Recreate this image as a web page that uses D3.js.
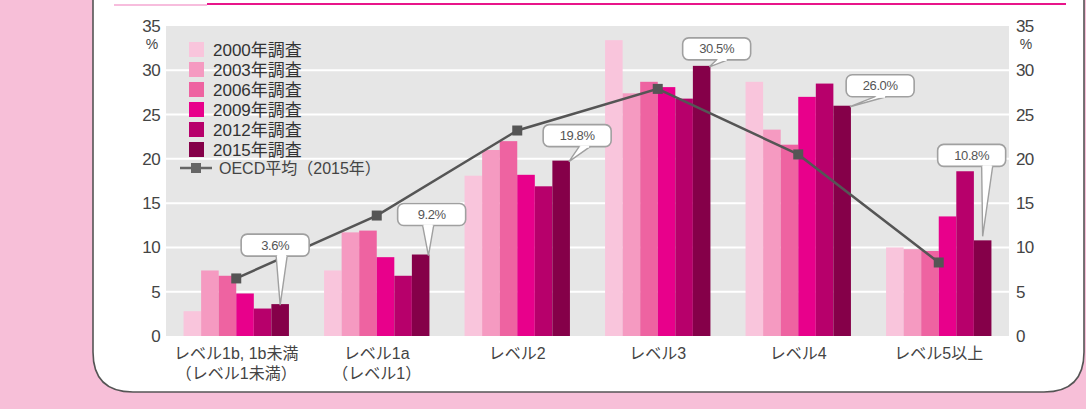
<!DOCTYPE html>
<html>
<head>
  <meta charset="utf-8">
  <title>読解力 習熟度レベル別の割合</title>
  <script src="https://d3js.org/d3.v7.min.js"></script>
  <style>
    body { margin: 0; background: #f7bfd8; }
    svg { display: block; font-family: "Liberation Sans", "Noto Sans CJK JP", sans-serif; }
  </style>
</head>
<body>
  <script>
    // Data
    const categories = ['レベル1b, 1b未満\n（レベル1未満）', 'レベル1a\n（レベル1）', 'レベル2', 'レベル3', 'レベル4', 'レベル5以上'];
    const surveys = ['2000年調査', '2003年調査', '2006年調査', '2009年調査', '2012年調査', '2015年調査'];
    const v2000 = [2.8, 7.4, 18.1, 33.4, 28.7, 10.0];
    const v2003 = [7.4, 11.7, 21.0, 27.4, 23.3, 9.8];
    const v2006 = [6.8, 11.9, 22.0, 28.7, 21.6, 9.6];
    const v2009 = [4.8, 8.9, 18.2, 28.1, 27.0, 13.5];
    const v2012 = [3.1, 6.8, 16.9, 26.8, 28.5, 18.6];
    const v2015 = [3.6, 9.2, 19.8, 30.5, 26.0, 10.8];
    const oecd = [6.5, 13.6, 23.2, 27.9, 20.5, 8.3];
    const yTicks = [0, 5, 10, 15, 20, 25, 30, 35];
    const colors = ['#f9c5dc', '#f59ac1', '#ee63a1', '#e8008b', '#b7006b', '#850049'];
    const seriesValues = [v2000, v2003, v2006, v2009, v2012, v2015];

    // Callout placement relative to the 2015 bar (layout only)
    const callouts = [
      { dx: -39, dy: -48, t: 35 },
      { dx: -23, dy: -29, t: 25 },
      { dx: -18, dy: -14, t: 36 },
      { dx: -19, dy: -6, t: 34 },
      { dx: 4, dy: -9, t: 29 },
      { dx: -45, dy: -74, t: 44 }
    ];

    const width = 1086, height = 409;
    const svg = d3.select('body').append('svg')
      .attr('width', width)
      .attr('height', height);

    // Panel
    svg.append('rect').attr('width', width).attr('height', height).attr('fill', '#f7bfd8');
    const px = 93, pw = 991, pb = 392, r = 40;
    svg.append('path')
      .attr('d', `M${px},-5 L${px},${pb - r} Q${px},${pb} ${px + r},${pb} L${px + pw - r},${pb} Q${px + pw},${pb} ${px + pw},${pb - r} L${px + pw},-5 Z`)
      .attr('fill', '#fff')
      .attr('stroke', '#555')
      .attr('stroke-width', 1.6);
    svg.append('line').attr('x1', 114).attr('x2', 207).attr('y1', 5).attr('y2', 5)
      .attr('stroke', '#f07cbb').attr('stroke-width', 1.2);
    svg.append('line').attr('x1', 207).attr('x2', 1066).attr('y1', 4).attr('y2', 4)
      .attr('stroke', '#e8158a').attr('stroke-width', 2);

    const margin = { left: 166, right: 1009, top: 26, bottom: 336 };

    const x = d3.scaleBand()
      .domain(categories)
      .range([margin.left, margin.right])
      .paddingInner(0.25)
      .paddingOuter(0.125);

    const x1 = d3.scaleBand()
      .domain(surveys)
      .range([0, x.bandwidth()]);

    const y = d3.scaleLinear()
      .domain([0, 35])
      .range([margin.bottom, margin.top]);

    // Plot background and grid
    svg.append('rect')
      .attr('x', margin.left).attr('y', margin.top)
      .attr('width', margin.right - margin.left).attr('height', margin.bottom - margin.top)
      .attr('fill', '#e6e6e6');

    svg.append('g')
      .selectAll('line')
      .data(yTicks.filter(t => t > 0 && t < 35))
      .join('line')
      .attr('x1', margin.left).attr('x2', margin.right)
      .attr('y1', d => y(d)).attr('y2', d => y(d))
      .attr('stroke', '#fff').attr('stroke-width', 2);

    // Axes
    const leftAxis = svg.append('g')
      .attr('transform', `translate(${margin.left - 4},0)`)
      .call(d3.axisLeft(y).tickValues(yTicks).tickSize(0).tickPadding(2));
    const rightAxis = svg.append('g')
      .attr('transform', `translate(${margin.right + 5},0)`)
      .call(d3.axisRight(y).tickValues(yTicks).tickSize(0).tickPadding(2));
    [leftAxis, rightAxis].forEach(a => {
      a.select('.domain').remove();
      a.selectAll('text').attr('font-size', 17).attr('fill', '#444')
        .attr('font-family', '"Liberation Sans", sans-serif').attr('letter-spacing', -0.6);
    });
    svg.append('text').attr('x', 152).attr('y', 49).attr('text-anchor', 'middle')
      .attr('font-size', 14).attr('fill', '#444').text('%');
    svg.append('text').attr('x', 1026).attr('y', 49).attr('text-anchor', 'middle')
      .attr('font-size', 14).attr('fill', '#444').text('%');

    // Bars
    const groups = svg.append('g')
      .selectAll('g')
      .data(categories)
      .join('g')
      .attr('transform', d => `translate(${x(d)},0)`);

    groups.selectAll('rect')
      .data((d, i) => surveys.map((s, j) => ({ s, j, v: seriesValues[j][i] })))
      .join('rect')
      .attr('x', d => x1(d.s))
      .attr('y', d => y(d.v))
      .attr('width', x1.bandwidth())
      .attr('height', d => y(0) - y(d.v))
      .attr('fill', d => colors[d.j]);

    // Category labels
    svg.append('g')
      .selectAll('text')
      .data(categories)
      .join('text')
      .attr('x', d => x(d) + x.bandwidth() / 2)
      .attr('y', 359)
      .attr('text-anchor', 'middle')
      .attr('font-size', 16)
      .attr('fill', '#444')
      .each(function (d) {
        d3.select(this).selectAll('tspan')
          .data(d.split('\n'))
          .join('tspan')
          .attr('x', x(d) + x.bandwidth() / 2)
          .attr('dy', (t, k) => k === 0 ? 0 : 20)
          .text(t => t);
      });

    // OECD line
    const cx = d => x(d) + x.bandwidth() / 2;
    svg.append('path')
      .datum(oecd)
      .attr('fill', 'none')
      .attr('stroke', '#555')
      .attr('stroke-width', 2.5)
      .attr('d', d3.line().x((d, i) => cx(categories[i])).y(d => y(d)));
    svg.append('g')
      .selectAll('rect')
      .data(oecd)
      .join('rect')
      .attr('x', (d, i) => cx(categories[i]) - 5)
      .attr('y', d => y(d) - 5)
      .attr('width', 10).attr('height', 10)
      .attr('fill', '#555');

    // Callouts for 2015
    const bw = 68, bh = 22;
    callouts.forEach((c, i) => {
      const barX = x(categories[i]) + x1(surveys[5]);
      const barC = barX + x1.bandwidth() / 2;
      const barR = barX + x1.bandwidth() - 1;
      const top = y(v2015[i]);
      const bx = barC + c.dx, by = top + c.dy - bh;
      const apexX = i === 0 || i === 5 ? barC : barR;
      const apexY = i === 5 ? top - 4 : top + 1;
      const g = svg.append('g');
      g.append('rect')
        .attr('x', bx).attr('y', by).attr('width', bw).attr('height', bh)
        .attr('rx', 6)
        .attr('fill', '#fff').attr('stroke', '#a0a0a0').attr('stroke-width', 1.6);
      g.append('path')
        .attr('d', `M${bx + c.t},${by + bh} L${apexX},${apexY} L${bx + c.t + 11},${by + bh}`)
        .attr('fill', '#fff').attr('stroke', '#a0a0a0').attr('stroke-width', 1.4);
      g.append('line')
        .attr('x1', bx + c.t + 1).attr('x2', bx + c.t + 10)
        .attr('y1', by + bh).attr('y2', by + bh)
        .attr('stroke', '#fff').attr('stroke-width', 2.2);
      g.append('text')
        .attr('x', bx + bw / 2).attr('y', by + 15.5)
        .attr('text-anchor', 'middle')
        .attr('font-size', 13).attr('fill', '#555')
        .attr('letter-spacing', -0.4)
        .text(v2015[i].toFixed(1) + '%');
    });

    // Legend
    const legend = svg.append('g');
    surveys.forEach((s, i) => {
      legend.append('rect')
        .attr('x', 189).attr('y', 42 + i * 20)
        .attr('width', 15).attr('height', 15)
        .attr('fill', colors[i]);
      legend.append('text')
        .attr('x', 213).attr('y', 56 + i * 20)
        .attr('font-size', 17).attr('fill', '#333')
        .text(s);
    });
    legend.append('line').attr('x1', 180).attr('x2', 212).attr('y1', 168).attr('y2', 168)
      .attr('stroke', '#666').attr('stroke-width', 2.5);
    legend.append('rect').attr('x', 191).attr('y', 163).attr('width', 10).attr('height', 10).attr('fill', '#666');
    legend.append('text')
      .attr('x', 219).attr('y', 174)
      .attr('font-size', 16).attr('fill', '#444')
      .text('OECD平均（2015年）');
  </script>
</body>
</html>
